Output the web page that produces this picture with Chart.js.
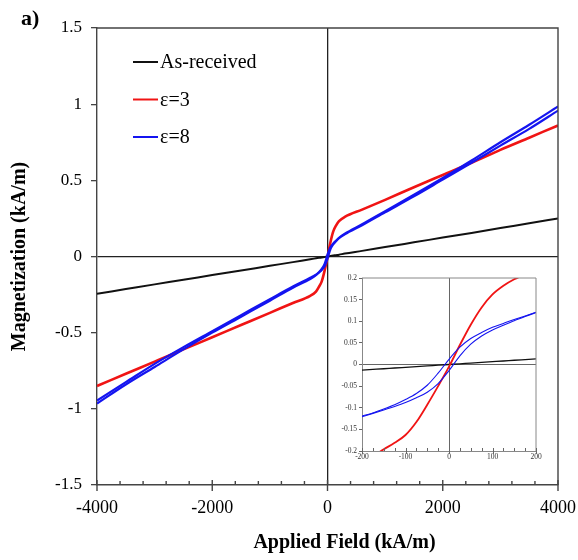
<!DOCTYPE html>
<html>
<head>
<meta charset="utf-8">
<script src="https://cdn.jsdelivr.net/npm/chart.js@4.4.1/dist/chart.umd.min.js"></script>
<style>
  html, body { margin: 0; padding: 0; background: #fff; }
  #wrap { position: relative; width: 578px; height: 560px; }
  #main { position: absolute; left: 0; top: 0; width: 578px; height: 560px; }
  #inset { position: absolute; left: 330px; top: 265px; width: 215px; height: 205px; }
</style>
</head>
<body>
<div id="wrap">
  <canvas id="main" width="578" height="560"></canvas>
  <canvas id="inset" width="215" height="205"></canvas>
</div>
<script>
// ---- main plot data (field in kA/m, magnetization in kA/m) ----
const fieldMain = [-4000, -3500, -3000, -2500, -2000, -1500, -1000, -600, -300, -200, -150, -100, -50, 0,
  50, 100, 150, 200, 300, 600, 1000, 1500, 2000, 2500, 3000, 3500, 4000];
const asReceivedMain = [-0.245, -0.214, -0.183, -0.153, -0.122, -0.092, -0.061, -0.037, -0.018, -0.012, -0.009, -0.006, -0.003, 0,
  0.003, 0.006, 0.009, 0.012, 0.019, 0.037, 0.062, 0.093, 0.124, 0.155, 0.187, 0.218, 0.25];
const eps3Main = [-0.85, -0.77, -0.69, -0.61, -0.53, -0.45, -0.37, -0.305, -0.258, -0.23, -0.2, -0.163, -0.093, -0.005,
  0.092, 0.165, 0.205, 0.232, 0.26, 0.308, 0.372, 0.455, 0.535, 0.615, 0.7, 0.78, 0.86];
const eps8MainUp = [-0.965, -0.84, -0.725, -0.61, -0.5, -0.395, -0.29, -0.205, -0.148, -0.123, -0.106, -0.088, -0.064, -0.014,
  0.047, 0.08, 0.101, 0.12, 0.145, 0.205, 0.29, 0.395, 0.505, 0.615, 0.728, 0.838, 0.958];
const eps8MainDown = [-0.945, -0.825, -0.705, -0.595, -0.49, -0.385, -0.28, -0.197, -0.14, -0.119, -0.103, -0.081, -0.048, 0.012,
  0.06, 0.086, 0.104, 0.123, 0.15, 0.212, 0.298, 0.405, 0.515, 0.63, 0.75, 0.865, 0.985];

// ---- inset data (zoom on +/-200 kA/m) ----
const fieldInset = [-200, -175, -150, -125, -100, -75, -50, -25, 0, 25, 50, 75, 100, 125, 150, 175, 200];
const asReceivedInset = [-0.013, -0.0114, -0.0098, -0.0081, -0.0065, -0.0049, -0.0033, -0.0016, 0,
  0.0016, 0.0033, 0.0049, 0.0065, 0.0081, 0.0098, 0.0114, 0.013];
const eps3Inset = [-0.225, -0.212, -0.196, -0.181, -0.163, -0.133, -0.093, -0.05, -0.005,
  0.045, 0.092, 0.132, 0.162, 0.182, 0.197, 0.208, 0.218];
const eps8InsetUp = [-0.121, -0.113, -0.105, -0.097, -0.088, -0.077, -0.064, -0.044, -0.014,
  0.02, 0.047, 0.066, 0.08, 0.091, 0.101, 0.111, 0.12];
const eps8InsetDown = [-0.119, -0.112, -0.103, -0.093, -0.081, -0.067, -0.048, -0.02, 0.012,
  0.04, 0.06, 0.074, 0.086, 0.095, 0.104, 0.112, 0.121];

const legendLabels = ["As-received", "ε=3", "ε=8"];
const seriesColors = ["#111111", "#f01414", "#1414f0"];

const xTicksMain = { min: -4000, max: 4000, step: 2000, minor: 400 };
const yTicksMain = { min: -1.5, max: 1.5, step: 0.5 };
const xTicksInset = { min: -200, max: 200, step: 100, minor: 25 };
const yTicksInset = { min: -0.2, max: 0.2, step: 0.05 };

const SERIF = '"Liberation Serif", "Times New Roman", serif';

function toPoints(xs, ys) {
  return xs.map((x, i) => ({ x: x, y: ys[i] }));
}

function lineSet(label, xs, ys, color, width, order) {
  return {
    label: label,
    data: toPoints(xs, ys),
    borderColor: color,
    backgroundColor: color,
    borderWidth: width,
    pointRadius: 0,
    cubicInterpolationMode: "monotone",
    fill: false,
    clip: 0,
    order: order,
  };
}

function zeroGrid(color) {
  return (ctx) => (ctx.tick && Math.abs(ctx.tick.value) < 1e-9 ? color : "rgba(0,0,0,0)");
}

// frame, crossing ticks, x title, panel letter and legend of the main plot
const mainDecor = {
  id: "mainDecor",
  afterDraw(chart) {
    const { ctx, chartArea: a, scales } = chart;
    const x = scales.x;
    ctx.save();
    ctx.strokeStyle = "#444";
    ctx.lineWidth = 1.4;
    ctx.beginPath();
    ctx.moveTo(a.left, a.top);
    ctx.lineTo(a.right, a.top);
    ctx.lineTo(a.right, a.bottom);
    ctx.stroke();

    for (let v = xTicksMain.min; v <= xTicksMain.max; v += xTicksMain.minor) {
      const px = x.getPixelForValue(v);
      const major = v % xTicksMain.step === 0;
      ctx.beginPath();
      ctx.moveTo(px, a.bottom - (major ? 5 : 4));
      ctx.lineTo(px, a.bottom + (major ? 6 : 0));
      ctx.stroke();
    }

    ctx.fillStyle = "#000";
    ctx.font = "bold 20px " + SERIF;
    ctx.textAlign = "center";
    ctx.textBaseline = "alphabetic";
    ctx.fillText("Applied Field (kA/m)", (a.left + a.right) / 2 + 17, 548);

    ctx.font = "bold 22px " + SERIF;
    ctx.textAlign = "left";
    ctx.fillText("a)", 21, 25);

    // legend
    ctx.font = "20px " + SERIF;
    ctx.textBaseline = "middle";
    legendLabels.forEach((label, i) => {
      const yy = 62 + i * 37.5;
      ctx.strokeStyle = seriesColors[i];
      ctx.lineWidth = 2;
      ctx.beginPath();
      ctx.moveTo(133, yy);
      ctx.lineTo(158, yy);
      ctx.stroke();
      ctx.fillStyle = "#000";
      ctx.fillText(label, 160, yy + 1);
    });
    ctx.restore();
  },
};

const insetDecor = {
  id: "insetDecor",
  afterDraw(chart) {
    const { ctx, chartArea: a, scales } = chart;
    const x = scales.x;
    ctx.save();
    ctx.strokeStyle = "#888";
    ctx.lineWidth = 1;
    ctx.beginPath();
    ctx.moveTo(a.left, a.top);
    ctx.lineTo(a.right, a.top);
    ctx.lineTo(a.right, a.bottom);
    ctx.stroke();
    ctx.strokeStyle = "#666";
    for (let v = xTicksInset.min; v <= xTicksInset.max; v += xTicksInset.minor) {
      const px = Math.round(x.getPixelForValue(v)) + 0.5;
      const major = v % xTicksInset.step === 0;
      ctx.beginPath();
      ctx.moveTo(px, a.bottom - 3);
      ctx.lineTo(px, a.bottom + (major ? 3 : 0));
      ctx.stroke();
    }
    ctx.restore();
  },
};

const mainChart = new Chart(document.getElementById("main"), {
  type: "line",
  data: {
    datasets: [
      lineSet(legendLabels[0], fieldMain, asReceivedMain, seriesColors[0], 2, 3),
      lineSet(legendLabels[1], fieldMain, eps3Main, seriesColors[1], 2.6, 2),
      lineSet(legendLabels[2], fieldMain, eps8MainUp, seriesColors[2], 2.2, 1),
      lineSet(legendLabels[2], fieldMain, eps8MainDown, seriesColors[2], 2.2, 0),
    ],
  },
  options: {
    responsive: false,
    animation: false,
    events: [],
    layout: { padding: { left: 0, top: 28, right: 0, bottom: 0 } },
    plugins: { legend: { display: false }, tooltip: { enabled: false } },
    scales: {
      x: {
        type: "linear",
        min: xTicksMain.min,
        max: xTicksMain.max,
        ticks: {
          stepSize: xTicksMain.step,
          padding: 12,
          maxRotation: 0,
          color: "#000",
          font: { family: SERIF, size: 18 },
          callback: (v) => String(v),
        },
        grid: { drawTicks: false, color: zeroGrid("#222"), lineWidth: 1.3 },
        border: { color: "#444", width: 1.4 },
        afterFit: (s) => { s.height = 75; s.paddingRight = 20; },
      },
      y: {
        type: "linear",
        min: yTicksMain.min,
        max: yTicksMain.max,
        ticks: {
          stepSize: yTicksMain.step,
          padding: 9,
          color: "#000",
          font: { family: SERIF, size: 17 },
          callback: (v) => String(v),
        },
        grid: { tickLength: 6, tickColor: "#444", color: zeroGrid("#222"), lineWidth: 1.3 },
        border: { color: "#444", width: 1.4 },
        title: {
          display: true,
          text: "Magnetization (kA/m)",
          color: "#000",
          font: { family: SERIF, size: 20, weight: "bold" },
          padding: { top: 8 },
        },
        afterFit: (s) => { s.width = 97; },
      },
    },
  },
  plugins: [mainDecor],
});

const insetChart = new Chart(document.getElementById("inset"), {
  type: "line",
  data: {
    datasets: [
      lineSet(legendLabels[0], fieldInset, asReceivedInset, seriesColors[0], 1.3, 3),
      lineSet(legendLabels[1], fieldInset, eps3Inset, seriesColors[1], 1.8, 2),
      lineSet(legendLabels[2], fieldInset, eps8InsetUp, seriesColors[2], 1.1, 1),
      lineSet(legendLabels[2], fieldInset, eps8InsetDown, seriesColors[2], 1.1, 0),
    ],
  },
  options: {
    responsive: false,
    animation: false,
    events: [],
    layout: { padding: { left: 0, top: 13, right: 9, bottom: 0 } },
    plugins: { legend: { display: false }, tooltip: { enabled: false } },
    scales: {
      x: {
        type: "linear",
        min: xTicksInset.min,
        max: xTicksInset.max,
        ticks: {
          stepSize: xTicksInset.step,
          padding: 2,
          maxRotation: 0,
          color: "#333",
          font: { family: SERIF, size: 7.5 },
          callback: (v) => String(v),
        },
        grid: { drawTicks: false, color: zeroGrid("#666"), lineWidth: 1 },
        border: { color: "#888", width: 1 },
        afterFit: (s) => { s.height = 19; },
      },
      y: {
        type: "linear",
        min: yTicksInset.min,
        max: yTicksInset.max,
        ticks: {
          stepSize: yTicksInset.step,
          padding: 2,
          color: "#333",
          font: { family: SERIF, size: 7.5 },
          callback: (v) => String(Math.round(v * 100) / 100),
        },
        grid: { tickLength: 3, tickColor: "#666", color: zeroGrid("#666"), lineWidth: 1 },
        border: { color: "#888", width: 1 },
        afterFit: (s) => { s.width = 32; },
      },
    },
  },
  plugins: [insetDecor],
});
</script>
</body>
</html>
